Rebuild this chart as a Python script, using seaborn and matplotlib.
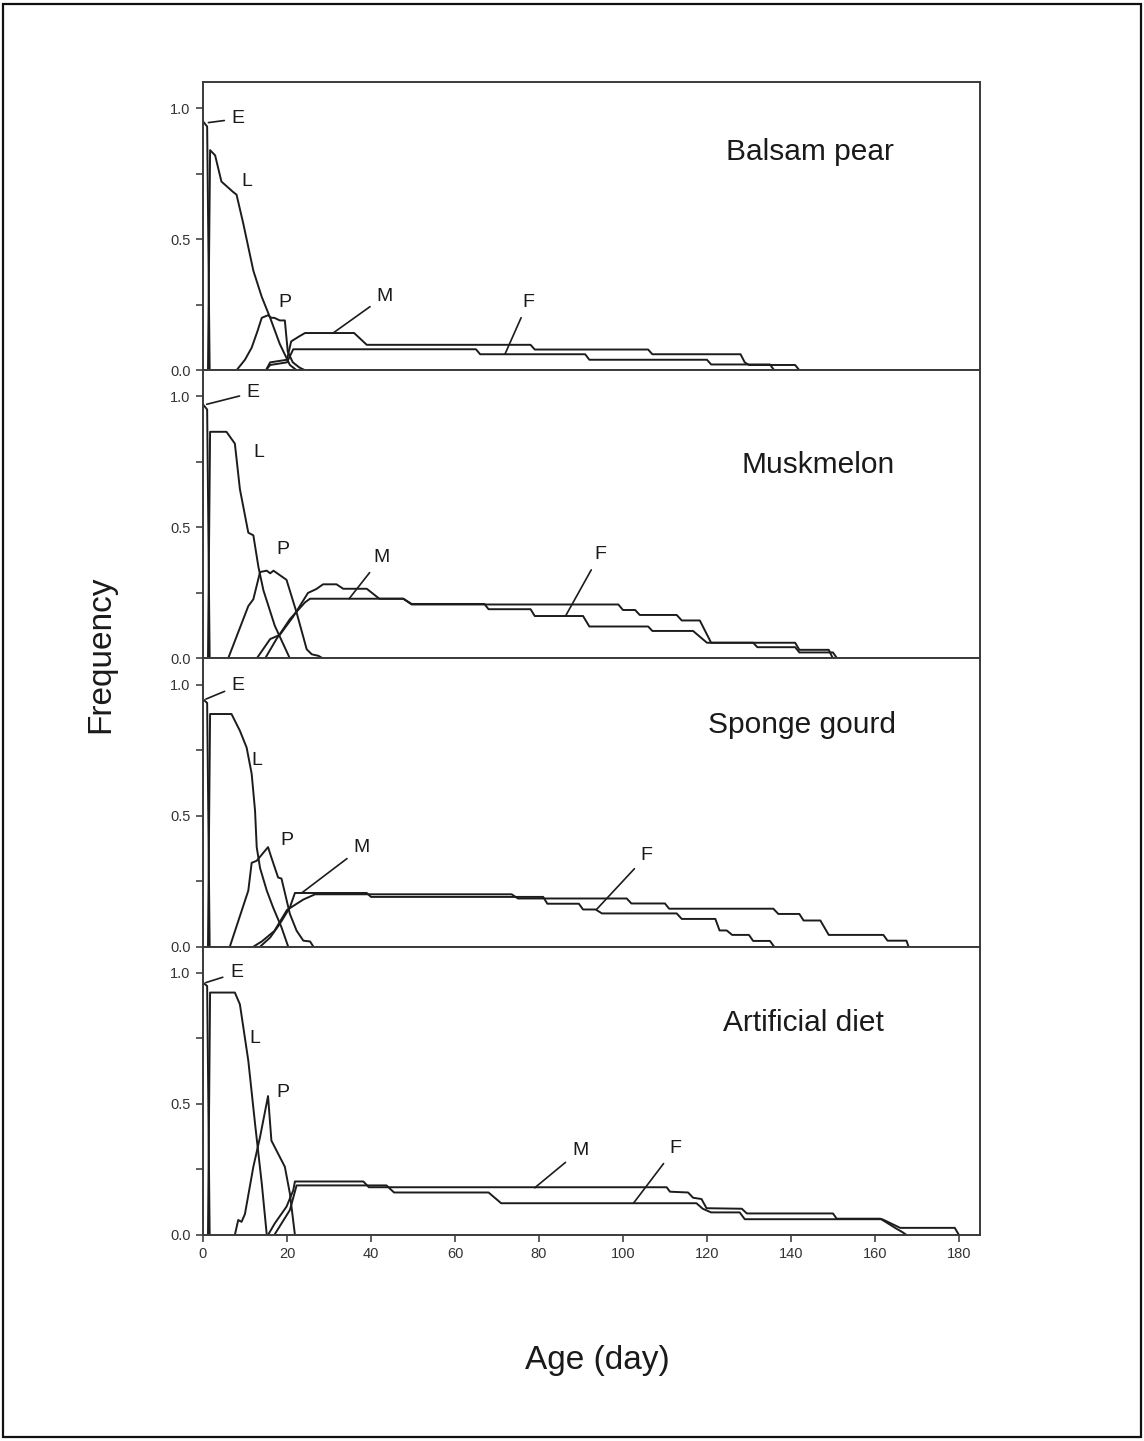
import matplotlib
matplotlib.use("Agg")
import matplotlib.pyplot as plt
import numpy as np
import pandas as pd
import seaborn as sns
from matplotlib.patches import Rectangle

# ---------------- data ----------------
panel_names = ["Balsam pear", "Muskmelon", "Sponge gourd", "Artificial diet"]
x_ticks = [0, 20, 40, 60, 80, 100, 120, 140, 160, 180]
y_ticks = [0.0, 0.25, 0.5, 0.75, 1.0]
y_tick_labels = ["0.0", "", "0.5", "", "1.0"]

# Panel 1: Balsam pear
E1_x = [0, 1, 1.6]
E1_y = [0.95, 0.93, 0.0]
L1_x = [1.2, 1.7, 2.9, 4.4, 7.2, 8, 9.6, 10.8, 12, 14, 16, 18.3, 20.7, 22.3]
L1_y = [0, 0.84, 0.82, 0.72, 0.68, 0.67, 0.56, 0.47, 0.38, 0.28, 0.2, 0.1, 0.02, 0]
P1_x = [8, 10, 11.6, 13, 14, 15.5, 16.3, 17, 18.3, 19.5, 20.2, 21.4, 23, 24.3]
P1_y = [0, 0.04, 0.086, 0.15, 0.2, 0.21, 0.2, 0.2, 0.19, 0.19, 0.07, 0.03, 0.01, 0]
M1_x = [15, 16, 20, 21, 23, 24.3, 36, 39, 78, 79, 106, 107, 128, 129, 130, 141, 142]
M1_y = [0, 0.03, 0.04, 0.11, 0.13, 0.142, 0.142, 0.097, 0.097, 0.079, 0.079, 0.061, 0.061, 0.03, 0.02, 0.02, 0]
F1_x = [15, 16, 20, 21.5, 65, 66, 91, 92, 120, 121, 135, 136]
F1_y = [0, 0.02, 0.03, 0.08, 0.08, 0.061, 0.061, 0.04, 0.04, 0.022, 0.022, 0]

# Panel 2: Muskmelon
E2_x = [0, 1, 1.6]
E2_y = [0.97, 0.95, 0.0]
L2_x = [1.2, 1.7, 5.6, 7.6, 8.8, 10.8, 12, 13.2, 14.4, 17.1, 20.7]
L2_y = [0, 0.865, 0.865, 0.82, 0.646, 0.48, 0.47, 0.35, 0.26, 0.125, 0]
P2_x = [6, 8.4, 10.8, 12, 13.6, 15.2, 16, 16.8, 19.9, 22.3, 24.7, 25.9, 27.5, 28.6]
P2_y = [0, 0.1, 0.2, 0.226, 0.33, 0.335, 0.325, 0.335, 0.30, 0.175, 0.035, 0.016, 0.01, 0]
M2_x = [12.8, 16, 18.3, 21.5, 25, 27, 28.6, 31.8, 33.4, 39, 42, 47.7, 49.7, 67, 68, 78, 79,
        90.5, 92, 106, 107, 116.7, 120, 141, 142, 149, 150]
M2_y = [0, 0.074, 0.09, 0.16, 0.25, 0.265, 0.283, 0.283, 0.266, 0.266, 0.228, 0.228, 0.208, 0.208,
        0.188, 0.188, 0.162, 0.162, 0.122, 0.122, 0.105, 0.105, 0.06, 0.06, 0.033, 0.033, 0]
F2_x = [14.8, 17.5, 20.7, 24.3, 25.5, 47.7, 49.7, 98.9, 100, 102.9, 104, 112.8, 114, 118.3,
        121, 131, 132, 141, 142, 150, 151]
F2_y = [0, 0.074, 0.15, 0.214, 0.228, 0.228, 0.206, 0.206, 0.185, 0.185, 0.166, 0.166, 0.145,
        0.145, 0.06, 0.06, 0.043, 0.043, 0.023, 0.023, 0]

# Panel 3: Sponge gourd
E3_x = [0, 1, 1.6]
E3_y = [0.945, 0.93, 0.0]
L3_x = [1.2, 1.7, 6.8, 8.8, 10.4, 11.6, 12.4, 12.8, 13.6, 15.2, 16.7, 18.7, 20.3]
L3_y = [0, 0.888, 0.888, 0.824, 0.76, 0.66, 0.52, 0.38, 0.30, 0.214, 0.15, 0.074, 0]
P3_x = [6.4, 10.8, 11.6, 12.8, 15.5, 16.3, 17.9, 18.7, 20.7, 22.3, 23.9, 25.5, 26.3]
P3_y = [0, 0.214, 0.32, 0.328, 0.38, 0.34, 0.264, 0.26, 0.125, 0.061, 0.023, 0.02, 0]
M3_x = [13.6, 16, 18.3, 20.7, 21.9, 39, 40, 81, 82, 89.5, 90.5, 93.5, 95, 112.8, 114, 122, 123,
        124.7, 126, 130, 131, 135, 136]
M3_y = [0, 0.035, 0.087, 0.15, 0.205, 0.205, 0.19, 0.19, 0.164, 0.164, 0.142, 0.142, 0.127, 0.127,
        0.106, 0.106, 0.062, 0.062, 0.045, 0.045, 0.022, 0.022, 0]
F3_x = [12, 14, 17, 20, 23.9, 26.7, 73.5, 75, 100.9, 102, 110, 111, 135.8, 137, 142, 143, 147,
        149, 162, 163, 167.5, 168]
F3_y = [0, 0.02, 0.06, 0.14, 0.18, 0.2, 0.2, 0.184, 0.184, 0.165, 0.165, 0.145, 0.145, 0.125,
        0.125, 0.1, 0.1, 0.045, 0.045, 0.023, 0.023, 0]

# Panel 4: Artificial diet
E4_x = [0, 1, 1.6]
E4_y = [0.963, 0.95, 0.0]
L4_x = [1.2, 1.7, 7.6, 8.8, 10.8, 12.4, 14, 15.2]
L4_y = [0, 0.925, 0.925, 0.88, 0.665, 0.425, 0.197, 0]
P4_x = [7.6, 8.4, 9.2, 10, 12, 13.6, 15.5, 16.3, 17.1, 19.5, 20.7, 21.9]
P4_y = [0, 0.057, 0.05, 0.08, 0.26, 0.374, 0.53, 0.36, 0.335, 0.26, 0.158, 0]
M4_x = [15.5, 17.1, 19.9, 21.5, 21.9, 38.2, 39.5, 110.4, 111.2, 115.5, 116.7, 118.7, 119.9,
        128.3, 129.5, 150, 150.9, 161.2, 162, 166, 179, 180]
M4_y = [0, 0.044, 0.108, 0.17, 0.204, 0.204, 0.182, 0.182, 0.165, 0.162, 0.142, 0.137, 0.102,
        0.1, 0.082, 0.082, 0.062, 0.062, 0.058, 0.027, 0.027, 0]
F4_x = [17, 20.7, 22.3, 43.7, 45.5, 68, 71, 117.5, 119, 121, 127.8, 129, 161.5, 163, 165,
        166.6, 167.5]
F4_y = [0, 0.095, 0.189, 0.189, 0.162, 0.162, 0.121, 0.121, 0.1, 0.086, 0.086, 0.06, 0.06,
        0.045, 0.025, 0.01, 0]

# stage label annotations: (label, text_x, text_y, point_x, point_y)
ann1 = [("E", 8.4, 0.96, 1.3, 0.945), ("L", 10.4, 0.72, None, None), ("P", 19.5, 0.26, None, None),
        ("M", 43.3, 0.283, 31, 0.142), ("F", 77.4, 0.26, 71.9, 0.061)]
ann2 = [("E", 12, 1.015, 0.9, 0.97), ("L", 13.2, 0.786, None, None), ("P", 19.1, 0.417, None, None),
        ("M", 42.5, 0.385, 34.8, 0.228), ("F", 94.5, 0.397, 86.4, 0.164)]
ann3 = [("E", 8.4, 0.996, 0.7, 0.945), ("L", 12.8, 0.71, None, None), ("P", 19.9, 0.405, None, None),
        ("M", 37.8, 0.379, 23.5, 0.205), ("F", 105.6, 0.347, 93.7, 0.142)]
ann4 = [("E", 8.0, 1.0, 0.7, 0.963), ("L", 12.4, 0.748, None, None), ("P", 19.1, 0.545, None, None),
        ("M", 89.8, 0.323, 79, 0.18), ("F", 112.4, 0.33, 102.5, 0.121)]
title_pos = [(144.5, 0.832), (146.4, 0.74), (142.6, 0.847), (142.9, 0.81)]

panels = [
    dict(E=(E1_x, E1_y), L=(L1_x, L1_y), P=(P1_x, P1_y), M=(M1_x, M1_y), F=(F1_x, F1_y), ann=ann1),
    dict(E=(E2_x, E2_y), L=(L2_x, L2_y), P=(P2_x, P2_y), M=(M2_x, M2_y), F=(F2_x, F2_y), ann=ann2),
    dict(E=(E3_x, E3_y), L=(L3_x, L3_y), P=(P3_x, P3_y), M=(M3_x, M3_y), F=(F3_x, F3_y), ann=ann3),
    dict(E=(E4_x, E4_y), L=(L4_x, L4_y), P=(P4_x, P4_y), M=(M4_x, M4_y), F=(F4_x, F4_y), ann=ann4),
]

# ---------------- style ----------------
sns.set_theme(style="white")
plt.rcParams["font.family"] = ["Liberation Sans", "DejaVu Sans"]

line_col = "#1c1c1c"
fig = plt.figure(figsize=(11.44, 14.41), dpi=100)
gs = fig.add_gridspec(4, 1, left=0.1774, right=0.8566, bottom=0.1430, top=0.9431, hspace=0)
axes = [fig.add_subplot(gs[i, 0]) for i in range(4)]

for i, (ax, pdata) in enumerate(zip(axes, panels)):
    for stage in ["E", "L", "P", "M", "F"]:
        xs, ys = pdata[stage]
        df = pd.DataFrame({"day": xs, "freq": ys})
        sns.lineplot(data=df, x="day", y="freq", ax=ax, color=line_col, lw=1.4,
                     estimator=None, sort=False)
    ax.set_xlim(0, 185)
    ax.set_ylim(0, 1.1)
    ax.set_xticks(x_ticks)
    ax.set_yticks(y_ticks)
    ax.set_yticklabels(y_tick_labels)
    ax.set_xlabel("")
    ax.set_ylabel("")
    if i < 3:
        ax.tick_params(axis="x", labelbottom=False)
    ax.tick_params(axis="both", direction="out", length=5, width=1.1, color="#333333",
                   labelsize=10.5, labelcolor="#333333", bottom=True, left=True, pad=4)
    for sp in ax.spines.values():
        sp.set_color("#3a3a3a")
        sp.set_linewidth(1.4)
    # title
    tx, ty = title_pos[i]
    ax.text(tx, ty, panel_names[i], ha="center", va="center", fontsize=21.5, color="#1a1a1a")
    # stage annotations
    for lab, txp, typ, px, py in pdata["ann"]:
        if px is None:
            ax.text(txp, typ, lab, ha="center", va="center", fontsize=14, color="#1a1a1a")
        else:
            ax.annotate(lab, xy=(px, py), xytext=(txp, typ), ha="center", va="center",
                        fontsize=14, color="#1a1a1a",
                        arrowprops=dict(arrowstyle="-", color=line_col, lw=1.2,
                                        shrinkA=3, shrinkB=0))

fig.text(0.088, 0.546, "Frequency", rotation=90, ha="center", va="center", fontsize=24,
         color="#1a1a1a")
fig.text(0.522, 0.056, "Age (day)", ha="center", va="center", fontsize=24, color="#1a1a1a")

fig.patches.append(Rectangle((0.003, 0.003), 0.994, 0.994, transform=fig.transFigure,
                             fill=False, edgecolor="#111111", lw=1.6))

fig.savefig("out.png", dpi=100)
